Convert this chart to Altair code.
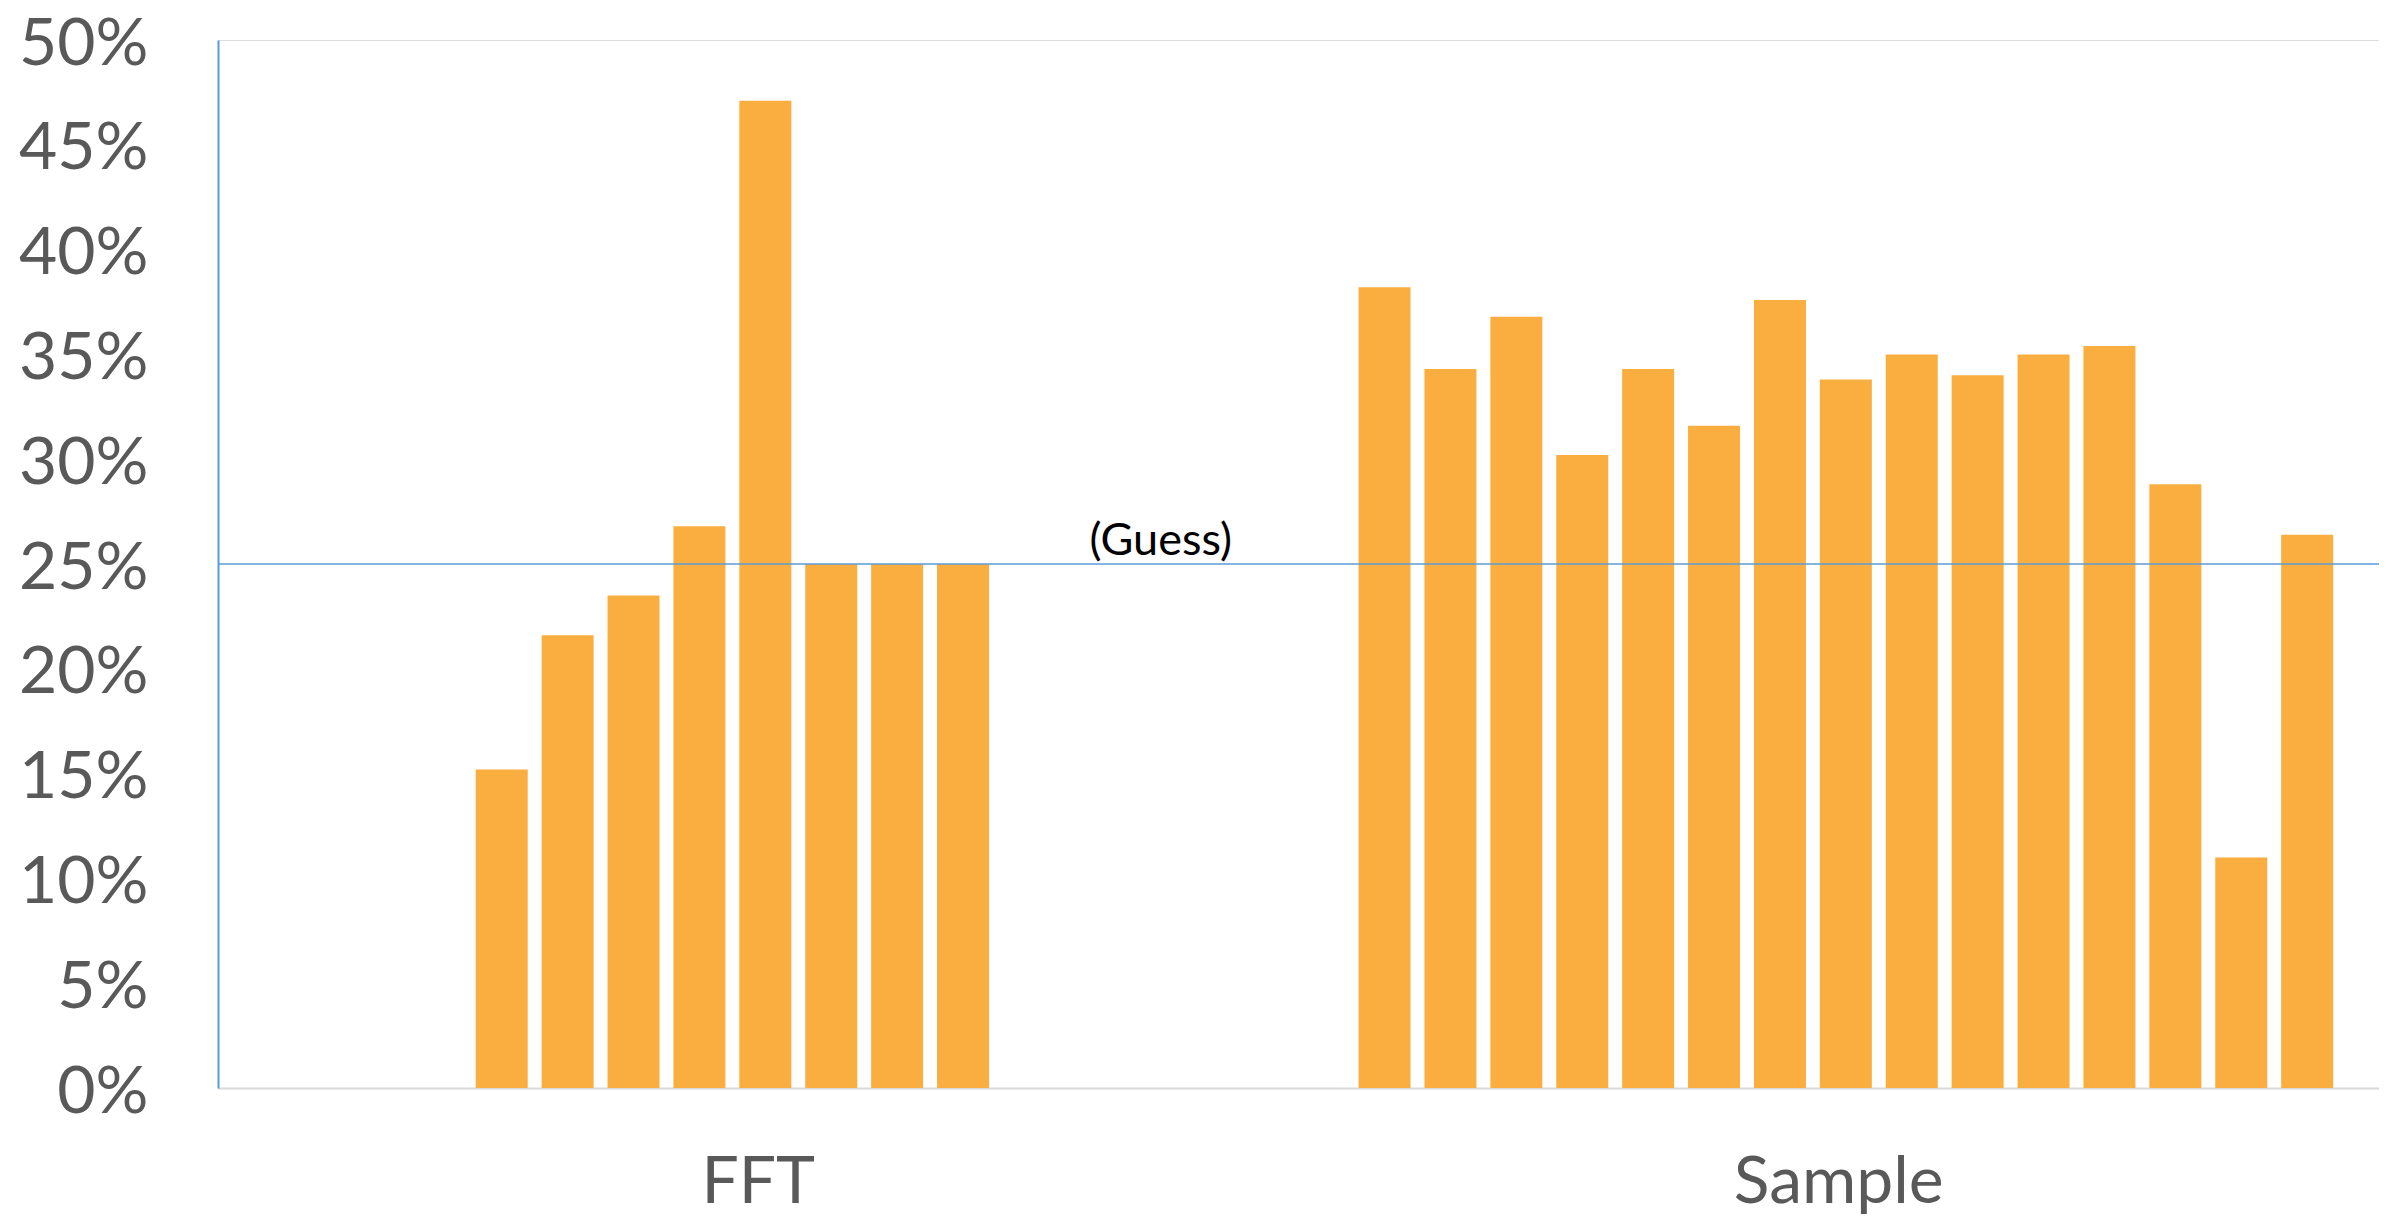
import altair as alt
import pandas as pd

# ---- data ----
groups = ["FFT", "Sample"]
slot_domain = list(range(15))

fft_slots = [3, 4, 5, 6, 7, 8, 9, 10]
fft_values = [0.152, 0.216, 0.235, 0.268, 0.471, 0.250, 0.250, 0.250]

sample_slots = list(range(15))
sample_values = [0.382, 0.343, 0.368, 0.302, 0.343, 0.316, 0.376, 0.338,
                 0.350, 0.340, 0.350, 0.354, 0.288, 0.110, 0.264]

guess_label = "(Guess)"
guess_value = 0.25
guess_group = "FFT"
guess_slot = 13

y_ticks = [0, 0.05, 0.10, 0.15, 0.20, 0.25, 0.30, 0.35, 0.40, 0.45, 0.50]

# ---- tables ----
bars = pd.DataFrame(
    {
        "group": ["FFT"] * len(fft_values) + ["Sample"] * len(sample_values),
        "slot": fft_slots + sample_slots,
        "value": fft_values + sample_values,
    }
)
guess = pd.DataFrame(
    {"group": [guess_group], "slot": [guess_slot], "value": [guess_value], "label": [guess_label]}
)

FONT = "Lato"
TEXT_GREY = "#595959"
BLUE = "#5B9BD5"
ORANGE = "#FBAE40"

x_enc = alt.X(
    "group:N",
    scale=alt.Scale(domain=groups, paddingInner=0, paddingOuter=0),
    axis=alt.Axis(
        title=None,
        labelAngle=0,
        ticks=False,
        tickSize=0,
        labelPadding=62,
        labelLimit=1000,
        labelFont=FONT,
        labelFontSize=66,
        labelColor=TEXT_GREY,
        domainColor="#D9D9D9",
        domainWidth=2,
        grid=False,
    ),
)
xoff_enc = alt.XOffset(
    "slot:O",
    scale=alt.Scale(domain=slot_domain, paddingInner=0.211, paddingOuter=0.8035, align=0.567),
)
y_enc = alt.Y(
    "value:Q",
    scale=alt.Scale(domain=[0, 0.5], nice=False),
    axis=alt.Axis(
        title=None,
        values=y_ticks,
        format=".0%",
        ticks=False,
        tickSize=0,
        grid=False,
        labelPadding=70,
        labelOffset=4,
        labelLimit=1000,
        labelFont=FONT,
        labelFontSize=66,
        labelColor=TEXT_GREY,
        domainColor=BLUE,
        domainWidth=2,
    ),
)

bar_layer = alt.Chart(bars).mark_bar(color=ORANGE).encode(x=x_enc, xOffset=xoff_enc, y=y_enc)

rule_layer = alt.Chart(guess).mark_rule(color=BLUE, strokeWidth=1.5).encode(y=alt.Y("value:Q"))

text_layer = alt.Chart(guess).mark_text(
    font=FONT, fontSize=45, color="#000000", baseline="alphabetic", align="center", dy=-9
).encode(x=alt.X("group:N"), xOffset=alt.XOffset("slot:O"), y=alt.Y("value:Q"), text="label:N")

chart = (
    alt.layer(bar_layer, rule_layer, text_layer)
    .properties(
        width=2161,
        height=1048,
        padding={"left": 210, "top": 32, "right": 0, "bottom": 130},
        autosize=alt.AutoSizeParams(type="none"),
    )
    .configure_view(stroke=None)
    .configure(background="white")
)

chart.save("out.html", embed_options={"renderer": "svg", "actions": False})
